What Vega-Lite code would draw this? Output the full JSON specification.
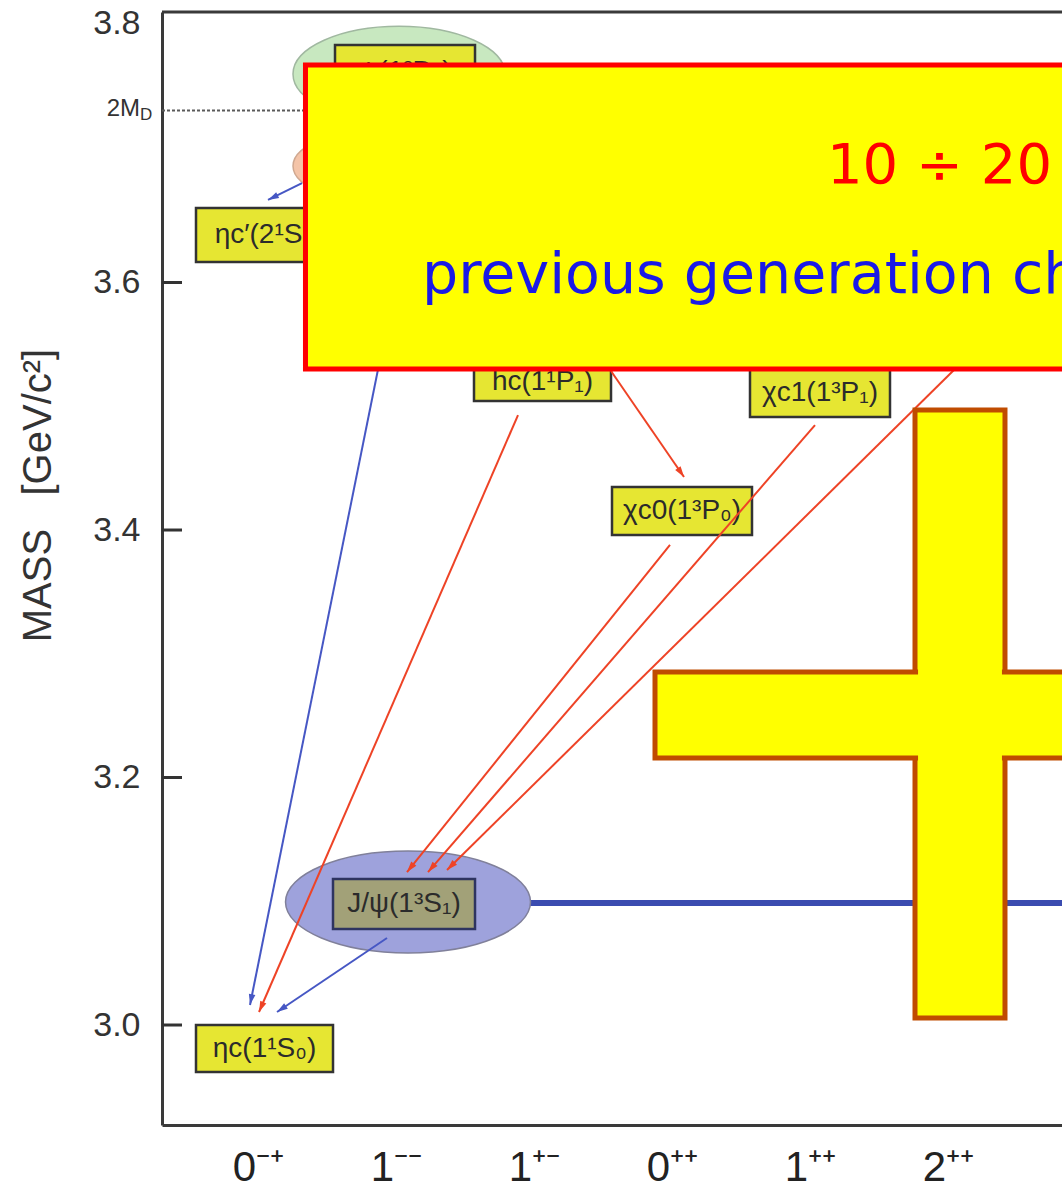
{
  "$schema": "https://vega.github.io/schema/vega-lite/v6.json",
  "width": 900,
  "height": 1113,
  "autosize": {"type": "none"},
  "padding": {"left": 162, "top": 12, "right": 0, "bottom": 66},
  "background": "white",
  "config": {"view": {"stroke": null}},
  "layer": [
    {
      "data": {"values": [{"x": -0.6957, "x2": 1.2, "y": 3.739}]},
      "mark": {"type": "rule", "strokeWidth": 2, "color": "#5a5a5a", "strokeDash": [3, 2]},
      "encoding": {
        "x": {"field": "x", "type": "quantitative", "scale": {"domain": [-0.6957, 5.8261], "nice": false, "zero": false},
          "axis": {"values": [0, 1, 2, 3, 4, 5], "labelExpr": "['0⁻⁺','1⁻⁻','1⁺⁻','0⁺⁺','1⁺⁺','2⁺⁺'][datum.value]", "ticks": false, "grid": false, "domain": true, "domainColor": "#3a3a3a", "domainWidth": 3, "labelFontSize": 42, "labelFont": "Liberation Sans", "labelColor": "#222222", "labelPadding": 22, "labelFlush": false, "labelOverlap": false, "title": null}},
        "x2": {"field": "x2"},
        "y": {"field": "y", "type": "quantitative", "scale": {"domain": [2.9192, 3.8186], "nice": false, "zero": false},
          "axis": {"values": [3.0, 3.2, 3.4, 3.6, 3.8], "format": ".1f", "ticks": false, "grid": false, "domain": true, "domainColor": "#3a3a3a", "domainWidth": 3, "labelFontSize": 34, "labelFont": "Liberation Sans", "labelColor": "#333333", "labelPadding": 22, "labelOverlap": false, "labelFlush": false, "labelOffset": {"condition": {"test": "datum.value > 3.7", "value": -12}, "value": 0}, "title": "MASS\u00a0\u00a0\u00a0[GeV/c²]", "titleFontSize": 40, "titleFont": "Liberation Sans", "titleFontWeight": "normal", "titleColor": "#333333", "titleBaseline": "alphabetic", "titleX": -112, "titleY": 483}}
      }
    },
    {
      "data": {"values": [{"y": 3.0}, {"y": 3.2}, {"y": 3.4}, {"y": 3.6}]},
      "mark": {"type": "rule", "strokeWidth": 3, "color": "#333333"},
      "encoding": {
        "x": {"datum": -0.6957, "type": "quantitative"},
        "x2": {"datum": -0.5507},
        "y": {"field": "y", "type": "quantitative"}
      }
    },
    {
      "data": {"values": [{"note": "frame"}]},
      "mark": {"type": "rule", "strokeWidth": 3, "color": "#3a3a3a"},
      "encoding": {
        "x": {"datum": -0.6957, "type": "quantitative"},
        "x2": {"datum": 5.8261},
        "y": {"datum": 3.8186, "type": "quantitative"}
      }
    },
    {
      "data": {"values": [{"x": 1.971, "x2": 6.3, "y": 3.0986}]},
      "mark": {"type": "rule", "strokeWidth": 6, "color": "#3b4cb0"},
      "encoding": {
        "x": {"field": "x", "type": "quantitative"},
        "x2": {"field": "x2"},
        "y": {"field": "y", "type": "quantitative"}
      }
    },
    {
      "data": {"values": [{"state": "J/psi", "x": 1.087, "y": 3.0994}]},
      "mark": {"type": "point", "shape": "M-1,0A1,0.416,0,1,1,1,0A1,0.416,0,1,1,-1,0Z", "size": 60025, "filled": true, "fill": "#9ea2dc", "stroke": "#80809a", "strokeWidth": 1.5, "opacity": 1},
      "encoding": {
        "x": {"field": "x", "type": "quantitative"},
        "y": {"field": "y", "type": "quantitative"}
      }
    },
    {
      "data": {"values": [{"state": "psi(3770)", "x": 1.0217, "y": 3.7685}]},
      "mark": {"type": "point", "shape": "M-1,0A1,0.45,0,1,1,1,0A1,0.45,0,1,1,-1,0Z", "size": 44944, "filled": true, "fill": "#c8e8c0", "stroke": "#a0b8a0", "strokeWidth": 1.5, "opacity": 1},
      "encoding": {
        "x": {"field": "x", "type": "quantitative"},
        "y": {"field": "y", "type": "quantitative"}
      }
    },
    {
      "data": {"values": [{"state": "psi(2S)", "x": 1.0652, "y": 3.6941}]},
      "mark": {"type": "point", "shape": "M-1,0A1,0.36,0,1,1,1,0A1,0.36,0,1,1,-1,0Z", "size": 50176, "filled": true, "fill": "#f4c4a8", "stroke": "#d0a890", "strokeWidth": 1.5, "opacity": 1},
      "encoding": {
        "x": {"field": "x", "type": "quantitative"},
        "y": {"field": "y", "type": "quantitative"}
      }
    },
    {
      "data": {"name": "levels", "values": [
        {"name": "ηc(1¹S₀)", "x": -0.4493, "x2": 0.5435, "y": 3.0, "y2": 2.962, "tx": 0.0471, "ty": 2.981},
        {"name": "J/ψ(1³S₁)", "x": 0.5435, "x2": 1.5725, "y": 3.118, "y2": 3.0776, "tx": 1.058, "ty": 3.0978},
        {"name": "ηc′(2¹S₀)", "x": -0.4493, "x2": 0.6087, "y": 3.6602, "y2": 3.6166, "tx": 0.0797, "ty": 3.6384},
        {"name": "hc(1¹P₁)", "x": 1.5652, "x2": 2.558, "y": 3.5535, "y2": 3.5043, "tx": 2.0616, "ty": 3.5196},
        {"name": "χc1(1³P₁)", "x": 3.5652, "x2": 4.5797, "y": 3.5309, "y2": 3.4913, "tx": 4.0725, "ty": 3.5111},
        {"name": "χc0(1³P₀)", "x": 2.5652, "x2": 3.5797, "y": 3.4347, "y2": 3.396, "tx": 3.0725, "ty": 3.4154},
        {"name": "ψ(1³D₁)", "x": 0.558, "x2": 1.5725, "y": 3.7919, "y2": 3.7515, "tx": 1.0652, "ty": 3.7701}
      ]},
      "layer": [
        {
          "mark": {"type": "rect", "strokeWidth": 2.5},
          "encoding": {
            "x": {"field": "x", "type": "quantitative"},
            "x2": {"field": "x2"},
            "y": {"field": "y", "type": "quantitative"},
            "y2": {"field": "y2"},
            "fill": {"condition": {"test": "datum.name === 'J/ψ(1³S₁)'", "value": "#a2a178"}, "value": "#e6e632"},
            "stroke": {"condition": {"test": "datum.name === 'J/ψ(1³S₁)'", "value": "#2e3460"}, "value": "#333333"}
          }
        },
        {
          "mark": {"type": "text", "fontSize": 28, "font": "Liberation Sans", "color": "#2b2b2b", "align": "center", "baseline": "middle"},
          "encoding": {
            "x": {"field": "tx", "type": "quantitative"},
            "y": {"field": "ty", "type": "quantitative"},
            "text": {"field": "name"}
          }
        }
      ]
    },
    {
      "data": {"name": "transitions", "values": [
        {"t": "M1", "x": 0.3188, "y": 3.6804, "x2": 0.0725, "y2": 3.6667},
        {"t": "M1", "x": 0.971, "y": 3.5859, "x2": -0.058, "y2": 3.0162},
        {"t": "E1", "x": 1.8841, "y": 3.4929, "x2": 0.0072, "y2": 3.0105},
        {"t": "E1", "x": 2.558, "y": 3.5285, "x2": 3.087, "y2": 3.4428},
        {"t": "E1", "x": 2.9855, "y": 3.3879, "x2": 1.0797, "y2": 3.1236},
        {"t": "E1", "x": 4.0362, "y": 3.4848, "x2": 1.2319, "y2": 3.1236},
        {"t": "E1", "x": 5.0652, "y": 3.5317, "x2": 1.3696, "y2": 3.1253},
        {"t": "M1", "x": 0.9348, "y": 3.0703, "x2": 0.1377, "y2": 3.0105}
      ]},
      "layer": [
        {
          "mark": {"type": "rule", "strokeWidth": 2},
          "encoding": {
            "x": {"field": "x", "type": "quantitative"},
            "y": {"field": "y", "type": "quantitative"},
            "x2": {"field": "x2"},
            "y2": {"field": "y2"},
            "color": {"field": "t", "type": "nominal", "scale": {"domain": ["E1", "M1"], "range": ["#ee4326", "#4657c4"]}, "legend": null}
          }
        },
        {
          "transform": [{"calculate": "atan2((datum.x2 - datum.x) * 138, (datum.y2 - datum.y) * 1237.5) * 180 / PI", "as": "angle"}],
          "mark": {"type": "point", "shape": "M0,0L0.55,1.8L-0.55,1.8Z", "size": 144, "filled": true, "opacity": 1, "strokeWidth": 0},
          "encoding": {
            "x": {"field": "x2", "type": "quantitative"},
            "y": {"field": "y2", "type": "quantitative"},
            "angle": {"field": "angle", "type": "quantitative", "scale": null},
            "color": {"field": "t", "type": "nominal", "scale": {"domain": ["E1", "M1"], "range": ["#ee4326", "#4657c4"]}, "legend": null}
          }
        }
      ]
    },
    {
      "data": {"values": [{"x": -0.855, "y": 3.7402, "text": "2M"}]},
      "mark": {"type": "text", "fontSize": 24, "font": "Liberation Sans", "color": "#333333", "align": "right", "baseline": "middle"},
      "encoding": {
        "x": {"field": "x", "type": "quantitative"},
        "y": {"field": "y", "type": "quantitative"},
        "text": {"field": "text"}
      }
    },
    {
      "data": {"values": [{"x": -0.855, "y": 3.7354, "text": "D"}]},
      "mark": {"type": "text", "fontSize": 17, "font": "Liberation Sans", "color": "#333333", "align": "left", "baseline": "middle"},
      "encoding": {
        "x": {"field": "x", "type": "quantitative"},
        "y": {"field": "y", "type": "quantitative"},
        "text": {"field": "text"}
      }
    },
    {
      "data": {"values": [{"x": 0.344, "x2": 6.3, "y": 3.7758, "y2": 3.5301}]},
      "mark": {"type": "rect", "fill": "#ffff00", "stroke": "#ff0000", "strokeWidth": 5},
      "encoding": {
        "x": {"field": "x", "type": "quantitative"},
        "y": {"field": "y", "type": "quantitative"},
        "x2": {"field": "x2"}, "y2": {"field": "y2"}
      }
    },
    {
      "data": {"values": [{"x": 4.123, "y": 3.6804, "text": "10 ÷ 20"}]},
      "mark": {"type": "text", "fontSize": 56, "font": "DejaVu Sans", "color": "#ff0000", "align": "left", "baseline": "alphabetic"},
      "encoding": {
        "x": {"field": "x", "type": "quantitative"},
        "y": {"field": "y", "type": "quantitative"},
        "text": {"field": "text"}
      }
    },
    {
      "data": {"values": [{"x": 1.1884, "y": 3.5915, "text": "previous generation charmonium"}]},
      "mark": {"type": "text", "fontSize": 57, "font": "DejaVu Sans", "color": "#1a1ae6", "align": "left", "baseline": "alphabetic"},
      "encoding": {
        "x": {"field": "x", "type": "quantitative"},
        "y": {"field": "y", "type": "quantitative"},
        "text": {"field": "text"}
      }
    },
    {
      "data": {"values": [
        {"bar": "vertical", "x": 4.7609, "x2": 5.413, "y": 3.497, "y2": 3.0057},
        {"bar": "horizontal", "x": 2.8768, "x2": 6.1014, "y": 3.2853, "y2": 3.2158}
      ]},
      "mark": {"type": "rect", "fill": "#ffff00", "stroke": "#c04c00", "strokeWidth": 5},
      "encoding": {
        "x": {"field": "x", "type": "quantitative"},
        "y": {"field": "y", "type": "quantitative"},
        "x2": {"field": "x2"}, "y2": {"field": "y2"}
      }
    },
    {
      "data": {"values": [
        {"part": "join-a", "x": 4.739, "x2": 5.435, "y": 3.2828, "y2": 3.2182},
        {"part": "join-b", "x": 4.783, "x2": 5.391, "y": 3.2877, "y2": 3.2133}
      ]},
      "mark": {"type": "rect", "fill": "#ffff00", "strokeWidth": 0},
      "encoding": {
        "x": {"field": "x", "type": "quantitative"},
        "y": {"field": "y", "type": "quantitative"},
        "x2": {"field": "x2"}, "y2": {"field": "y2"}
      }
    }
  ]
}
